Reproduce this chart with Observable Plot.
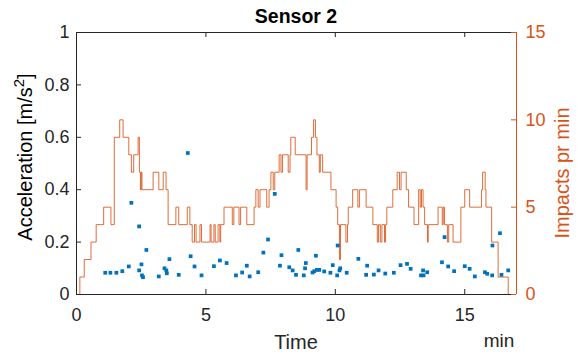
<!DOCTYPE html>
<html><head><meta charset="utf-8">
<script src="https://cdn.jsdelivr.net/npm/d3@7"></script>
<script src="https://cdn.jsdelivr.net/npm/@observablehq/plot@0.6"></script>
<style>
body{margin:0;background:#fff}
svg{font-family:"Liberation Sans",Arial,sans-serif}
</style>
</head><body><div id="chart"></div>
<script>
// ---- data ----
const stepTime = [0,0.13,0.30,0.56,0.76,1.05,1.33,1.46,1.67,1.80,2.02,2.12,2.21,2.38,2.43,2.47,2.50,2.53,2.96,3.18,3.35,3.46,3.54,3.84,3.95,4.28,4.38,4.47,4.56,4.62,4.77,4.83,5.16,5.20,5.31,5.36,5.47,5.54,5.57,5.70,6.02,6.08,6.28,6.34,6.58,6.86,6.93,7.02,7.09,7.35,7.44,7.51,7.60,7.66,7.83,7.90,7.96,8.18,8.25,8.28,8.45,8.87,8.91,9.08,9.16,9.23,9.29,9.38,9.42,9.51,9.83,10.03,10.09,10.16,10.20,10.41,10.47,10.50,10.67,10.87,10.93,11.19,11.45,11.62,11.67,11.74,11.80,11.90,11.94,11.99,12.22,12.39,12.48,12.54,12.74,12.83,13.04,13.22,13.28,13.33,13.39,13.45,13.56,13.59,13.97,14.13,14.17,14.22,14.33,14.38,14.55,14.85,15.00,15.19,15.65,15.69,15.79,15.82,16.04,16.29,16.68];
const stepImpacts = [0,1,2,3,4,5,4,9,10,9,8,7,8,9,7,6,7,6,7,6,7,6,4,5,4,5,4,3,4,3,4,3,4,3,4,3,4,3,4,5,4,5,4,5,4,5,6,5,6,5,6,7,6,7,8,7,8,7,8,9,8,6,8,9,10,9,8,7,8,7,6,5,4,2,4,3,4,5,6,5,6,5,4,3,4,3,4,3,4,5,6,7,6,7,6,5,4,6,5,6,5,4,3,4,5,4,5,4,3,4,3,5,6,5,6,7,6,5,3,1,0];
const pointTime = [1.11,1.31,1.54,1.77,2.02,2.42,2.51,2.53,2.57,2.12,2.42,2.70,3.18,3.40,3.47,3.49,3.59,3.95,4.30,4.41,4.56,4.83,5.31,5.54,5.80,6.16,6.40,6.58,6.69,7.02,7.22,7.40,7.66,7.86,7.92,8.22,8.35,8.48,8.57,8.78,8.83,8.86,9.12,9.19,9.29,9.38,9.25,9.57,9.81,9.90,10.07,10.09,10.16,10.19,10.44,10.89,11.19,11.23,11.49,11.67,11.93,12.26,12.52,12.77,12.91,13.31,13.41,13.39,13.55,14.12,14.22,14.36,14.59,15.00,15.19,15.39,15.78,15.87,16.06,16.07,16.36,16.42,16.68];
const pointAcc = [0.083,0.083,0.083,0.089,0.107,0.092,0.115,0.073,0.066,0.35,0.26,0.17,0.069,0.10,0.092,0.081,0.135,0.075,0.54,0.146,0.107,0.073,0.108,0.13,0.12,0.073,0.084,0.11,0.069,0.085,0.16,0.21,0.384,0.11,0.15,0.104,0.092,0.075,0.17,0.073,0.10,0.12,0.084,0.089,0.094,0.094,0.148,0.088,0.083,0.112,0.073,0.187,0.092,0.10,0.083,0.136,0.075,0.11,0.076,0.092,0.08,0.083,0.112,0.117,0.098,0.073,0.073,0.092,0.085,0.123,0.219,0.107,0.089,0.108,0.098,0.069,0.085,0.079,0.073,0.187,0.234,0.075,0.092];
const accTicks = [0,0.2,0.4,0.6,0.8,1];
const timeTicks = [0,5,10,15];
const impactTicks = [0,5,10,15];
const impactMax = 15;
const timeMax = 17;

const ORANGE = "#D95319", BLUE = "#0072BD", INK = "#262626";
const W = 577, H = 356, ML = 76, MR = 61, MT = 32, MB = 62;
const IW = W - ML - MR, IH = H - MT - MB, TL = 5;

const steps = stepTime.map((t, i) => ({t, v: stepImpacts[i] / impactMax}));
const pts = pointTime.map((t, i) => ({t, a: pointAcc[i]}));

const chart = Plot.plot({
  width: W, height: H,
  marginLeft: ML, marginRight: MR, marginTop: MT, marginBottom: MB,
  style: {fontFamily: "Liberation Sans, Arial, sans-serif", fontSize: "18px", color: INK, background: "#fff", overflow: "visible"},
  x: {domain: [0, timeMax]},
  y: {domain: [0, 1]},
  marks: [
    Plot.lineY(steps, {x: "t", y: "v", curve: "step-after", stroke: ORANGE, strokeWidth: 1, strokeOpacity: 0.85}),
    Plot.dot(pts, {x: "t", y: "a", symbol: "square", r: 2.1, fill: BLUE, stroke: null}),
    // box
    Plot.ruleY([0], {stroke: INK}),
    Plot.ruleY([1], {stroke: INK}),
    Plot.ruleX([0], {stroke: INK}),
    Plot.ruleX([timeMax], {stroke: ORANGE}),
    // inward ticks
    Plot.tickY(accTicks, {y: d => d, stroke: INK, insetRight: IW - TL}),
    Plot.tickY(impactTicks, {y: d => d / impactMax, stroke: ORANGE, insetLeft: IW - TL}),
    Plot.tickX(timeTicks, {x: d => d, stroke: INK, insetTop: IH - TL}),
    Plot.tickX(timeTicks, {x: d => d, stroke: INK, insetBottom: IH - TL}),
    // tick labels
    Plot.axisY({anchor: "left", ticks: accTicks, tickSize: 0, tickPadding: 7, tickFormat: d => String(d), label: null, fontSize: 18, fill: INK}),
    Plot.axisY({anchor: "right", ticks: impactTicks.map(d => d / impactMax), tickSize: 0, tickPadding: 9, tickFormat: d => String(Math.round(d * impactMax)), label: null, fontSize: 18, fill: ORANGE}),
    Plot.axisX({anchor: "bottom", ticks: timeTicks, tickSize: 0, tickPadding: 14, tickFormat: d => String(d), label: null, fontSize: 18, fill: INK})
  ]
});
document.getElementById("chart").appendChild(chart);

const svg = d3.select(chart);
svg.append("text").attr("x", 296).attr("y", 23).attr("text-anchor", "middle")
  .attr("font-size", 19.5).attr("font-weight", "bold").attr("fill", "#000").text("Sensor 2");
svg.append("text").attr("x", 296).attr("y", 349).attr("text-anchor", "middle")
  .attr("font-size", 20).attr("fill", INK).text("Time");
svg.append("text").attr("x", 499).attr("y", 347).attr("text-anchor", "middle")
  .attr("font-size", 19).attr("fill", INK).text("min");
const yl = svg.append("text").attr("transform", "translate(32,157) rotate(-90)")
  .attr("text-anchor", "middle").attr("font-size", 20).attr("fill", "#000");
yl.append("tspan").text("Acceleration [m/s");
yl.append("tspan").attr("font-size", 15).attr("dy", -8).text("2");
yl.append("tspan").attr("dy", 8).text("]");
svg.append("text").attr("transform", "translate(569,173) rotate(-90)")
  .attr("text-anchor", "middle").attr("font-size", 20).attr("fill", ORANGE).text("Impacts pr min");
</script>
</body></html>
